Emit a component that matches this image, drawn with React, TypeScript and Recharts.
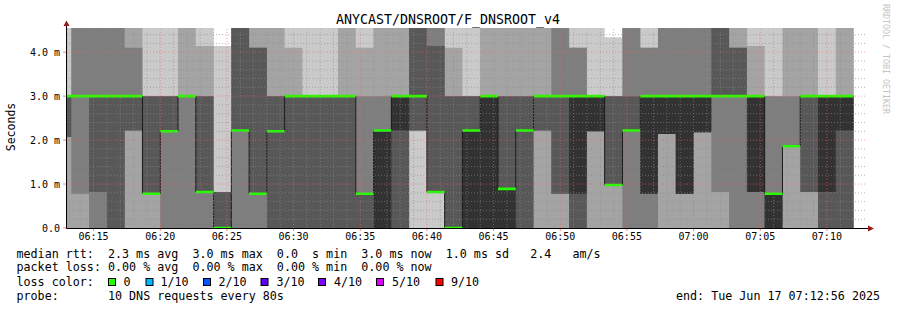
import React from "react";
import { ComposedChart, Area, XAxis, YAxis, ReferenceLine } from "recharts";

// step start times in seconds after 06:00:00 (80s probe step; first entry is the clipped left edge,
// last entry closes the final step)
const times = [
  776, 800, 880, 960, 1040, 1120, 1200, 1280, 1360, 1440, 1520, 1600, 1680, 1760, 1840, 1920,
  2000, 2080, 2160, 2240, 2320, 2400, 2480, 2560, 2640, 2720, 2800, 2880, 2960, 3040, 3120,
  3200, 3280, 3360, 3440, 3520, 3600, 3680, 3760, 3840, 3920, 4000, 4080, 4160, 4240, 4320,
];

// sorted rtt of the 10 pings per step (ms), lowest to highest
const ping1 = [
  0, 0, 0, 0, 0, 0, 0, 0, 0, 0, 0, 0, 0, 0, 0, 0, 0, 0, 0, 0, 0, 0, 0,
  0, 0, 0, 0, 0, 0, 0, 0, 0, 0, 0, 0, 0, 0, 0, 0, 0, 0, 0, 0, 0, 0,
];
const ping2 = [
  0, 0, 0, 0, 0, 0, 0, 0, 0, 0, 0, 0, 0, 0, 0, 0, 0, 0, 0, 0, 2.22, 0.82, 0,
  0, 0, 0, 0, 0, 0, 0, 0, 0, 0, 0, 0, 0, 0, 0, 0, 0, 0, 0, 0, 0, 0,
];
const ping3 = [
  2.07, 0.78, 0, 0, 2.22, 0.78, 0, 0, 0, 0, 0, 0, 0, 0, 0, 0, 0, 0, 0, 0, 2.22, 0.82, 0,
  0, 0, 0, 0, 2.22, 0.78, 0, 2.2, 0.98, 0, 0, 2.14, 0.78, 2.18, 0.82, 0, 0, 0, 1.86, 0.82, 0, 0,
];
const ping4 = [
  2.07, 3, 0.82, 0, 2.22, 0.78, 2.2, 3, 0.82, 0, 2.22, 0.78, 0, 0, 0, 0, 0, 0, 0, 0, 2.22, 0.82, 0,
  0, 0, 0, 0, 2.22, 0.78, 0, 2.2, 0.98, 2.22, 0.78, 2.14, 0.78, 2.18, 3, 3, 0.82, 0, 1.86, 0.82, 0, 0,
];
const ping5 = [
  3, 3, 3, 3, 3, 0.78, 2.2, 3, 0.82, 0, 2.22, 0.78, 2.2, 3, 3, 3, 3, 0.78, 0, 2.22, 3, 0.82, 0,
  0, 0, 0, 2.22, 3, 3, 0.78, 2.2, 0.98, 2.22, 0.78, 2.14, 0.78, 2.18, 3, 3, 0.82, 0, 1.86, 3, 0.82, 2.22,
];
const ping6 = [
  3, 3, 3, 3, 3, 0.78, 2.2, 3, 0.82, 0, 2.22, 0.78, 2.2, 3, 3, 3, 3, 0.78, 2.22, 3, 3, 0.82, 0,
  2.22, 3, 0.89, 2.22, 3, 3, 3, 3, 0.98, 2.22, 3, 3, 3, 3, 3, 3, 3, 0.78, 1.86, 3, 3, 3,
];
const ping7 = [
  3, 3, 3, 3, 3, 3, 3, 3, 3, 0.82, 4.55, 4.1, 3, 3, 3, 3, 3, 0.78, 2.22, 3, 4.55, 4.14, 3,
  3, 3, 3, 3, 3, 3, 3, 3, 3, 3, 3, 3, 3, 3, 4.55, 4.1, 3, 0.78, 1.86, 3, 3, 3,
];
const ping8 = [
  3, 4.55, 4.55, 4.55, 4.1, 3, 3, 3, 3, 0.82, 4.55, 4.1, 3, 3, 3, 3, 3, 3, 3, 3, 4.55, 4.55, 3,
  3, 3, 3, 3, 3, 4.55, 4.1, 3, 3, 4.55, 4.1, 4.55, 4.55, 4.55, 4.55, 4.1, 3, 3, 3, 3, 3, 3,
];
const ping9 = [
  3, 4.55, 4.55, 4.55, 4.55, 3, 3, 4.55, 4.14, 0.82, 4.55, 4.55, 4.55, 4.1, 3, 3, 4.55, 4.1, 4.55, 4.55, 4.55, 4.55, 4.1,
  3, 4.55, 4.55, 4.55, 4.55, 4.55, 4.1, 3, 3, 4.55, 4.1, 4.55, 4.55, 4.55, 4.55, 4.55, 4.14, 3, 4.55, 4.55, 3, 4.55,
];
const ping10 = [
  4.55, 4.55, 4.55, 4.55, 4.55, 4.55, 4.55, 4.55, 4.55, 4.14, 4.55, 4.55, 4.55, 4.55, 4.55, 4.55, 4.55, 4.55, 4.55, 4.55, 4.55, 4.55, 4.55,
  4.55, 4.55, 4.55, 4.55, 4.55, 4.55, 4.55, 4.55, 4.34, 4.55, 4.55, 4.55, 4.55, 4.55, 4.55, 4.55, 4.55, 4.55, 4.55, 4.55, 4.55, 4.55,
];
const median = [
  3, 3, 3, 3, 3, 0.78, 2.2, 3, 0.82, 0, 2.22, 0.78, 2.2, 3, 3, 3, 3, 0.78, 2.22, 3, 3, 0.82, 0,
  2.22, 3, 0.89, 2.22, 3, 3, 3, 3, 0.98, 2.22, 3, 3, 3, 3, 3, 3, 3, 0.78, 1.86, 3, 3, 3,
];

const yTicks = [0, 1, 2, 3, 4];
const yTickLabels = ["0.0", "1.0 m", "2.0 m", "3.0 m", "4.0 m"];
const xTicks = [900, 1200, 1500, 1800, 2100, 2400, 2700, 3000, 3300, 3600, 3900, 4200];
const xTickLabels = ["06:15", "06:20", "06:25", "06:30", "06:35", "06:40", "06:45", "06:50", "06:55", "07:00", "07:05", "07:10"];

const lossLabels = ["0", "1/10", "2/10", "3/10", "4/10", "5/10", "9/10"];
const lossColors = ["#26ff00", "#00b8ff", "#0059ff", "#5e00ff", "#7e00ff", "#dd00ff", "#ff0000"];

const smokeColors = ["#cacaca", "#a4a4a4", "#7e7e7e", "#585858", "#323232"];
const MONO = "'DejaVu Sans Mono', monospace";

const pings = [ping1, ping2, ping3, ping4, ping5, ping6, ping7, ping8, ping9, ping10];
const rows = times.map((t, i) => {
  const k = Math.min(i, median.length - 1);
  return { t, p: pings.map((a) => a[k]), med: median[k] };
});

// grid positions
const minorY: number[] = [];
for (let i = 1; i <= 22; i++) if (i % 5 !== 0) minorY.push(+(i * 0.2).toFixed(1));
const minorX: number[] = [];
for (let m = 13; m <= 72; m++) if (m % 5 !== 0) minorX.push(m * 60);

const boxX = [108.5, 146, 203.5, 261, 318.5, 376.5, 436];
const boxLabelX = [123.5, 160.5, 218.5, 276.5, 334, 392, 451];

export default function App() {
  return (
    <div style={{ position: "absolute", left: 0, top: 0, width: 897, height: 310, background: "#fff" }}>
      <ComposedChart width={897} height={310} data={rows} margin={{ top: 28, right: 31, bottom: 62, left: 0 }}>
        <XAxis
          dataKey="t"
          type="number"
          domain={[776, 4376]}
          ticks={xTicks}
          tickFormatter={(v) => xTickLabels[xTicks.indexOf(v)] ?? ""}
          height={20}
          axisLine={false}
          tickSize={3}
          tickMargin={2}
          tickLine={{ stroke: "#ff8080" }}
          tick={{ fontFamily: MONO, fontSize: 10, fill: "#000" }}
          allowDataOverflow
        />
        <YAxis
          type="number"
          domain={[0, 4.55]}
          ticks={yTicks}
          tickFormatter={(v) => yTickLabels[yTicks.indexOf(v)] ?? ""}
          width={66}
          axisLine={false}
          tickSize={3}
          tickMargin={3}
          tickLine={{ stroke: "#ff8080" }}
          tick={{ fontFamily: MONO, fontSize: 10, fill: "#000" }}
          allowDataOverflow
        />
        {smokeColors.map((c, b) => (
          <Area
            key={"smoke" + b}
            type="stepAfter"
            dataKey={(d: any) => [d.p[b], d.p[9 - b]]}
            fill={c}
            fillOpacity={1}
            stroke="none"
            dot={false}
            activeDot={false}
            isAnimationActive={false}
          />
        ))}
        {/* dark median step line, then the loss-coloured median band over it */}
        <Area
          type="stepAfter"
          dataKey="med"
          fill="none"
          fillOpacity={0}
          stroke="#1a1a1a"
          strokeWidth={1}
          dot={false}
          activeDot={false}
          isAnimationActive={false}
        />
        <Area
          type="stepAfter"
          dataKey={(d: any) => [d.med - 0.029, d.med + 0.029]}
          fill={lossColors[0]}
          fillOpacity={1}
          stroke="none"
          dot={false}
          activeDot={false}
          isAnimationActive={false}
        />
        {minorY.map((v) => (
          <ReferenceLine key={"hy" + v} y={v} stroke="#8c8c8c" strokeOpacity={0.6} strokeDasharray="1 2" />
        ))}
        {minorX.map((v) => (
          <ReferenceLine key={"hx" + v} x={v} stroke="#8c8c8c" strokeOpacity={0.6} strokeDasharray="1 2" />
        ))}
        {yTicks.slice(1).map((v) => (
          <ReferenceLine key={"my" + v} y={v} stroke="#ff6060" strokeOpacity={0.6} strokeDasharray="1 2" />
        ))}
        {xTicks.map((v) => (
          <ReferenceLine key={"mx" + v} x={v} stroke="#ff6060" strokeOpacity={0.6} strokeDasharray="1 2" />
        ))}
      </ComposedChart>

      <svg width={897} height={310} style={{ position: "absolute", left: 0, top: 0, pointerEvents: "none" }}>
        {/* axes and arrows */}
        <line x1={66.5} y1={228.5} x2={870} y2={228.5} stroke="#000" strokeWidth={1} />
        <line x1={66.5} y1={228.5} x2={66.5} y2={24} stroke="#000" strokeWidth={1} />
        <polygon points="63.5,26 69.5,26 66.5,20.5" fill="#9a1a1a" />
        <polygon points="868,225.5 868,231.5 874,228.5" fill="#9a1a1a" />

        <text x={448} y={24} textAnchor="middle" fontFamily={MONO} fontSize={13.3} fill="#000">
          ANYCAST/DNSROOT/F_DNSROOT_v4
        </text>
        <text x={15} y={127} transform="rotate(-90 15 127)" textAnchor="middle" fontFamily={MONO} fontSize={11.5} fill="#000">
          Seconds
        </text>
        <text x={883} y={4} transform="rotate(90 883 4)" fontFamily={MONO} fontSize={8.3} fill="#c4c4c4">
          RRDTOOL / TOBI OETIKER
        </text>

        <g fontFamily={MONO} fontSize={11.7} fill="#000" style={{ whiteSpace: "pre" }}>
          <text x={16.5} y={257.5} xmlSpace="preserve">
            {"median rtt:  2.3 ms avg  3.0 ms max  0.0  s min  3.0 ms now  1.0 ms sd   2.4   am/s"}
          </text>
          <text x={16.5} y={271} xmlSpace="preserve">
            {"packet loss: 0.00 % avg  0.00 % max  0.00 % min  0.00 % now"}
          </text>
          <text x={16.5} y={285.5} xmlSpace="preserve">
            {"loss color:"}
          </text>
          {lossLabels.map((l, i) => (
            <g key={l}>
              <rect x={boxX[i]} y={278.5} width={7} height={7} fill={lossColors[i]} stroke="#000" strokeWidth={1} />
              <text x={boxLabelX[i]} y={285.5}>
                {l}
              </text>
            </g>
          ))}
          <text x={16.5} y={299.5} xmlSpace="preserve">
            {"probe:       10 DNS requests every 80s"}
          </text>
          <text x={676} y={299.5} xmlSpace="preserve">
            {"end: Tue Jun 17 07:12:56 2025"}
          </text>
        </g>
      </svg>
    </div>
  );
}
